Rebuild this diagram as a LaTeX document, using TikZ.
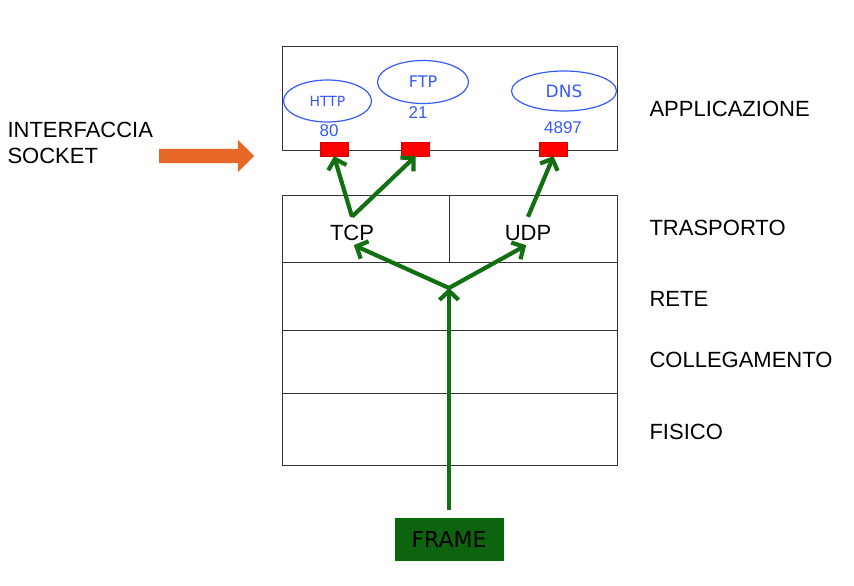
\documentclass[tikz,border=0pt]{standalone}
\usepackage{fontspec}
\setmainfont{Liberation Sans}
\newfontfamily\comicfont{DejaVu Sans}
\usetikzlibrary{arrows.meta,shapes.arrows,shapes.geometric}

\definecolor{arrowgreen}{RGB}{18,112,18}
\definecolor{framegreen}{RGB}{14,100,14}
\definecolor{portblue}{RGB}{55,90,250}
\definecolor{sockorange}{RGB}{232,104,40}

\begin{document}
\begin{tikzpicture}[x=1pt,y=-1pt,
    layertext/.style={font=\fontsize{22}{26}\selectfont,anchor=west},
    proto/.style={draw=portblue,line width=1.2pt,ellipse,inner sep=0pt,text=portblue},
    portnum/.style={text=portblue,font=\fontsize{17}{20}\selectfont},
    port/.style={fill=red,draw=red!85!black,line width=0.4pt,minimum width=28pt,minimum height=14pt,inner sep=0pt},
    flow/.style={arrowgreen,line width=4.2pt,-{Straight Barb[length=9pt,width=19pt]}}]
  \useasboundingbox (0,0) rectangle (854,586);
  % livello applicazione
  \node[draw=black!80,line width=1pt,minimum width=335pt,minimum height=103pt,inner sep=0pt] (app) at (449.5,98.5) {};
  \node[proto,minimum width=88pt,minimum height=42pt,font=\comicfont\fontsize{14}{16}\selectfont] (http) at (327.5,101) {HTTP};
  \node[proto,minimum width=91pt,minimum height=43pt,font=\comicfont\fontsize{16}{18}\selectfont] (ftp) at (423,82) {FTP};
  \node[proto,minimum width=105pt,minimum height=40pt,font=\comicfont\fontsize{17}{19}\selectfont] (dns) at (564,91) {DNS};
  \node[portnum] (n80) at (329,131) {80};
  \node[portnum] (n21) at (418,113) {21};
  \node[portnum] (n4897) at (563,128) {4897};
  \node[port] (phttp) at (334,149) {};
  \node[port] (pftp) at (415.5,149) {};
  \node[port] (pdns) at (553.5,149) {};
  % pila dei livelli sotto
  \draw[black!80,line width=1pt] (282,195) rectangle (617,465);
  \draw[black!80,line width=1pt] (282,262) -- (617,262);
  \draw[black!80,line width=1pt] (282,330) -- (617,330);
  \draw[black!80,line width=1pt] (282,393) -- (617,393);
  \draw[black!80,line width=0.8pt] (449,195) -- (449,262);
  \node[font=\fontsize{22}{26}\selectfont] (tcp) at (352,233) {TCP};
  \node[font=\fontsize{22}{26}\selectfont] (udp) at (528,233) {UDP};
  \coordinate (tcpup) at ([yshift=5pt]tcp.north);
  \coordinate (udpup) at ([yshift=5pt]udp.north);
  % nomi dei livelli
  \node[layertext] (lapp) at (646,109) {APPLICAZIONE};
  \node[layertext] (ltras) at (646,228) {TRASPORTO};
  \node[layertext] (lrete) at (646,299) {RETE};
  \node[layertext] (lcoll) at (646,360) {COLLEGAMENTO};
  \node[layertext] (lfis) at (646,432) {FISICO};
  % interfaccia socket
  \node[layertext,align=left] (sock) at (4,143) {INTERFACCIA\\SOCKET};
  \node[single arrow,fill=sockorange,inner sep=7pt,minimum height=95pt,single arrow head extend=9pt] (sockarrow) at (203,156) {};
  % frame e percorso
  \node[fill=framegreen,draw=green!45!black,line width=1pt,minimum width=108pt,minimum height=42pt,inner sep=0pt,font=\comicfont\fontsize{22}{24}\selectfont] (frame) at (449,539) {FRAME};
  \coordinate (split) at (449,288);
  \draw[flow,shorten <=8pt] (frame.north) -- (split);
  \draw[flow,shorten >=2pt] (split) -- (tcp.south);
  \draw[flow,shorten >=2pt] (split) -- (udp.south);
  \draw[flow] (tcpup) -- (phttp.south);
  \draw[flow] (tcpup) -- (pftp.south);
  \draw[flow] (udpup) -- (pdns.south);
\end{tikzpicture}
\end{document}
